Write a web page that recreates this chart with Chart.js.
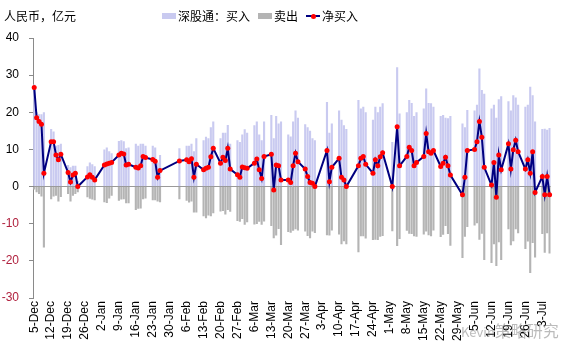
<!DOCTYPE html>
<html><head><meta charset="utf-8">
<script src="https://cdn.jsdelivr.net/npm/chart.js@4.4.1/dist/chart.umd.min.js"></script>
<style>
html,body{margin:0;padding:0;background:#fff;}
#wrap{position:relative;width:567px;height:356px;overflow:hidden;background:#fff;}
canvas{position:absolute;left:0;top:0;}
.t{position:absolute;font-family:"Noto Sans CJK SC","Noto Sans",sans-serif;font-size:12px;color:#000;line-height:14px;white-space:nowrap;}
.sw{position:absolute;}
.wm{position:absolute;font-family:"Noto Sans CJK SC","Noto Sans",sans-serif;color:rgba(120,120,120,0.5);white-space:nowrap;line-height:16px;}
</style></head><body>
<div id="wrap">
<canvas id="c" width="567" height="356"></canvas>
<div class="t" style="left:4px;top:9px;">人民币，亿元</div>
<div class="sw" style="left:162px;top:13px;width:14px;height:6px;background:#C9CAF0"></div>
<div class="t" style="left:178px;top:9px;">深股通：买入</div>
<div class="sw" style="left:258px;top:13px;width:14px;height:6px;background:#B4B4B4"></div>
<div class="t" style="left:274px;top:9px;">卖出</div>
<div class="sw" style="left:306px;top:15px;width:14px;height:2px;background:#000080"></div>
<div class="sw" style="left:311px;top:13.5px;width:5px;height:5px;border-radius:50%;background:#FF0000"></div>
<div class="t" style="left:322px;top:9px;">净买入</div>
<div class="wm" style="left:461px;top:322px;"><span style="font-size:13px">Kevin</span><span style="font-size:16px">策略研究</span></div>
</div>
<script>
const weekLabels = ['5-Dec','12-Dec','19-Dec','26-Dec','2-Jan','9-Jan','16-Jan','23-Jan','30-Jan','6-Feb','13-Feb','20-Feb','27-Feb','6-Mar','13-Mar','20-Mar','27-Mar','3-Apr','10-Apr','17-Apr','24-Apr','1-May','8-May','15-May','22-May','29-May','5-Jun','12-Jun','19-Jun','26-Jun','3-Jul'];

const tradeDates = [
'2016-12-05','2016-12-06','2016-12-07','2016-12-08','2016-12-09',
'2016-12-12','2016-12-13','2016-12-14','2016-12-15','2016-12-16',
'2016-12-19','2016-12-20','2016-12-21','2016-12-22','2016-12-23',
'2016-12-27','2016-12-28','2016-12-29','2016-12-30',
'2017-01-03','2017-01-04','2017-01-05','2017-01-06',
'2017-01-09','2017-01-10','2017-01-11','2017-01-12','2017-01-13',
'2017-01-16','2017-01-17','2017-01-18','2017-01-19','2017-01-20',
'2017-01-23','2017-01-24','2017-01-25','2017-01-26',
'2017-02-03',
'2017-02-06','2017-02-07','2017-02-08','2017-02-09','2017-02-10',
'2017-02-13','2017-02-14','2017-02-15','2017-02-16','2017-02-17',
'2017-02-20','2017-02-21','2017-02-22','2017-02-23','2017-02-24',
'2017-02-27','2017-02-28','2017-03-01','2017-03-02','2017-03-03',
'2017-03-06','2017-03-07','2017-03-08','2017-03-09','2017-03-10',
'2017-03-13','2017-03-14','2017-03-15','2017-03-16','2017-03-17',
'2017-03-20','2017-03-21','2017-03-22','2017-03-23','2017-03-24',
'2017-03-27','2017-03-28','2017-03-29','2017-03-30','2017-03-31',
'2017-04-05','2017-04-06','2017-04-07',
'2017-04-10','2017-04-11','2017-04-12','2017-04-13',
'2017-04-18','2017-04-19','2017-04-20','2017-04-21',
'2017-04-24','2017-04-25','2017-04-26','2017-04-27','2017-04-28',
'2017-05-02','2017-05-04','2017-05-05',
'2017-05-08','2017-05-09','2017-05-10','2017-05-11','2017-05-12',
'2017-05-15','2017-05-16','2017-05-17','2017-05-18','2017-05-19',
'2017-05-22','2017-05-23','2017-05-24','2017-05-25','2017-05-26',
'2017-05-31','2017-06-01','2017-06-02',
'2017-06-05','2017-06-06','2017-06-07','2017-06-08','2017-06-09',
'2017-06-12','2017-06-13','2017-06-14','2017-06-15','2017-06-16',
'2017-06-19','2017-06-20','2017-06-21','2017-06-22','2017-06-23',
'2017-06-26','2017-06-27','2017-06-28','2017-06-29','2017-06-30',
'2017-07-03','2017-07-04','2017-07-05','2017-07-06'
];

const buyVals = [
27.5,20,19.5,19.5,20,
15.5,14.8,11,11.2,11.5,
5.8,5.2,5.6,5.6,1.5,
5.5,6.5,6,5.5,
10,10.5,9.5,9,
12.3,12.5,12.2,10.3,10.5,
11.5,11,11.5,11.5,11,
11,10.5,6.5,8.5,
10.3,
11,11,11.5,9.5,13,
12.5,13.4,13,16,17.5,
13,14.5,14.5,16.6,11.5,
12.5,12,14,15.4,14.5,
16.5,17.5,14,12.5,17.5,
19.3,13,19,17,17.5,
14,13.5,17.5,20.5,18.5,
16.8,16,15,13,12.5,
22.8,14.5,17,
20.5,18,16.5,15.5,
23.3,21,21.5,20,
18,21.5,20,21.5,22.4,
12,32.1,19.7,
20,23.3,22.5,19,20,
21,26.4,22.5,22.4,21.5,
19,19.3,18.5,18.4,19,
17,16,20.6,
20.5,22,31.8,26,25,
21,22,18.5,23.5,24.3,
23,20.5,24.6,24,22,
21.5,22,26.9,24.6,17.5,
15.5,15.6,15.3,15.8
];

const sellVals = [
-0.8,-1.5,-2,-2.7,-16.4,
-3.4,-2.7,-2.5,-4,-2.8,
-2,-4,-2.5,-2,-1.5,
-2.9,-3.3,-3.5,-3.7,
-4.2,-4.4,-3.2,-2.5,
-3.8,-3.5,-3.4,-4.5,-4.5,
-6.3,-6,-5.9,-3.4,-3.2,
-3.7,-3.7,-4,-4.2,
-3.4,
-3.8,-4.3,-4,-7,-7,
-8,-8.5,-7.8,-8,-7.2,
-6.7,-6.6,-7.5,-6.3,-6.8,
-9.3,-9.5,-8.7,-10.3,-9.6,
-10.2,-10.1,-9.5,-10.3,-9.4,
-10.6,-13.9,-13.2,-11.4,-15.7,
-12.2,-12.4,-11.9,-11.5,-11.8,
-12.1,-13.3,-13.9,-12.1,-12.5,
-13.1,-13.2,-11.8,
-12.9,-15.5,-14.7,-15.5,
-17.7,-13.4,-13.4,-14,
-14.4,-14.3,-14.4,-13.5,-13.3,
-12,-16,-14.1,
-11.9,-12.7,-12.8,-13.4,-13.5,
-12.9,-12.1,-13.1,-13.4,-11.8,
-13.6,-13,-10.6,-12.8,-15.9,
-19.2,-13.5,-10.9,
-10.5,-9.9,-14.3,-12.7,-19.8,
-20.6,-15.5,-21.4,-15,-19.8,
-11.5,-15.8,-14.7,-11.5,-12.6,
-16.8,-14.8,-23.3,-15.2,-19.1,
-12.8,-17.8,-12.6,-18
];

const netVals = [
26.7,18.5,17.5,16.8,3.6,
12.1,12.1,8.5,7.2,8.7,
3.8,1.2,3.1,3.6,0,
2.6,3.2,2.5,1.8,
5.8,6.1,6.3,6.5,
8.5,9.0,8.8,5.8,6.0,
5.2,5.0,5.6,8.1,7.8,
7.3,6.8,2.5,4.3,
6.9,
7.2,6.7,7.5,2.5,6.0,
4.5,4.9,5.2,8.0,10.3,
6.3,7.9,7.0,10.3,4.7,
3.2,2.5,5.3,5.1,4.9,
6.3,7.4,4.5,2.2,8.1,
8.7,-0.9,5.8,5.6,1.8,
1.8,1.1,5.6,9.0,6.7,
4.7,2.7,1.1,0.9,0,
9.7,1.3,5.2,
7.6,2.5,1.8,0,
5.6,7.6,8.1,6.0,
3.6,7.2,5.6,8.0,9.1,
0,16.1,5.6,
8.1,10.6,9.7,5.6,6.5,
8.1,14.3,9.4,9.0,9.7,
5.4,6.3,7.9,5.6,3.1,
-2.2,2.5,9.7,
10.0,12.1,17.5,13.3,5.2,
0.4,6.5,-2.9,8.5,4.5,
11.5,4.7,9.9,12.5,9.4,
4.7,7.2,3.6,9.4,-1.6,
2.7,-2.2,2.7,-2.2
];

// calendar-day category axis (date axis)
const calKeys = [];
{
  const start = Date.UTC(2016, 11, 5), end = Date.UTC(2017, 6, 6);
  for (let t = start; t <= end; t += 86400000) {
    calKeys.push(new Date(t).toISOString().slice(0, 10));
  }
}
const idx = {};
tradeDates.forEach((d, i) => { idx[d] = i; });
const pick = arr => calKeys.map(k => (k in idx ? arr[idx[k]] : null));
const buyCal = pick(buyVals), sellCal = pick(sellVals), netCal = pick(netVals);

const tickFont = { family: '"Liberation Sans", Arial, sans-serif', size: 12 };

new Chart(document.getElementById('c'), {
  type: 'bar',
  data: {
    labels: calKeys,
    datasets: [
      { type: 'line', label: '净买入', data: netCal, borderColor: '#000080', borderWidth: 2,
        pointRadius: 2.5, pointBackgroundColor: '#FF0000', pointBorderColor: '#FF0000', pointBorderWidth: 0,
        spanGaps: true, tension: 0, order: 0 },
      { label: '深股通：买入', data: buyCal, backgroundColor: '#C9CAF0', grouped: false,
        barPercentage: 0.88, categoryPercentage: 1, order: 1 },
      { label: '卖出', data: sellCal, backgroundColor: '#B4B4B4', grouped: false,
        barPercentage: 0.88, categoryPercentage: 1, order: 2 }
    ]
  },
  options: {
    responsive: false, animation: false, devicePixelRatio: 1,
    layout: { padding: { top: 38, right: 9, left: 0, bottom: 0 } },
    plugins: { legend: { display: false }, tooltip: { enabled: false } },
    scales: {
      x: {
        grid: { display: false, drawTicks: false },
        border: { display: false },
        ticks: {
          autoSkip: false, maxRotation: 90, minRotation: 90, padding: 3, color: '#000', font: tickFont,
          callback: (v, i) => (i % 7 === 0 ? (weekLabels[i / 7] || '') : '')
        },
        afterFit: s => { s.height = 58; }
      },
      y: {
        min: -30, max: 40,
        ticks: { stepSize: 10, padding: 10, font: tickFont,
          color: c => (c.tick && c.tick.value < 0 ? '#B0213E' : '#000') },
        grid: { color: c => (c.tick && c.tick.value === 0 ? '#9A9A9A' : 'rgba(0,0,0,0)'),
          tickColor: '#8A8A8A', tickLength: 4, drawTicks: true, lineWidth: 1 },
        border: { display: true, color: '#8A8A8A', width: 1 },
        afterFit: s => { s.width = 33; }
      }
    }
  }
});
</script>
</body></html>
